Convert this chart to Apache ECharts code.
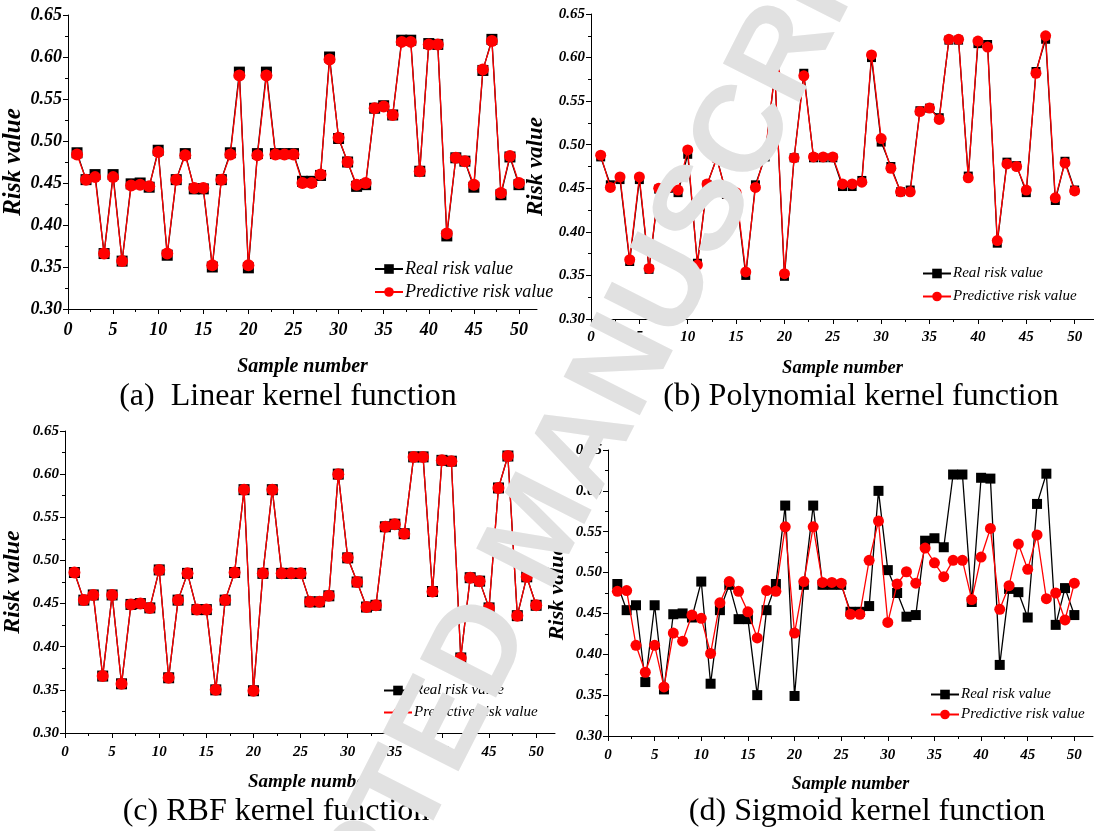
<!DOCTYPE html>
<html>
<head>
<meta charset="utf-8">
<script src="https://cdn.jsdelivr.net/npm/echarts@6/dist/echarts.min.js"></script>
<style>
html, body { margin: 0; padding: 0; background: #fff; }
#main { width: 1094px; height: 831px; }
</style>
</head>
<body>
<div id="main"></div>
<script>
// sample numbers on the x axis
var sampleNo = [1,2,3,4,5,6,7,8,9,10,11,12,13,14,15,16,17,18,19,20,
  21,22,23,24,25,26,27,28,29,30,31,32,33,34,35,36,37,38,39,40,
  41,42,43,44,45,46,47,48,49,50];

var realRisk = [0.486,0.454,0.460,0.366,0.460,0.357,0.449,0.450,0.445,0.489,
  0.364,0.454,0.485,0.443,0.443,0.350,0.454,0.486,0.582,0.349,
  0.485,0.582,0.485,0.485,0.485,0.452,0.452,0.459,0.600,0.503,
  0.475,0.446,0.448,0.539,0.542,0.531,0.620,0.620,0.464,0.616,
  0.615,0.387,0.480,0.476,0.445,0.584,0.621,0.436,0.481,0.448];

var predLinear = [0.484,0.454,0.457,0.366,0.457,0.357,0.447,0.448,0.446,0.487,
  0.366,0.454,0.483,0.444,0.444,0.352,0.454,0.484,0.578,0.352,
  0.483,0.578,0.484,0.484,0.484,0.450,0.450,0.460,0.597,0.504,
  0.475,0.448,0.450,0.539,0.541,0.531,0.618,0.618,0.464,0.615,
  0.615,0.390,0.480,0.476,0.448,0.585,0.619,0.438,0.482,0.450];

var predPoly = [0.488,0.451,0.463,0.368,0.463,0.358,0.450,0.451,0.448,0.494,
  0.362,0.455,0.484,0.444,0.445,0.354,0.451,0.489,0.582,0.352,
  0.485,0.579,0.486,0.486,0.486,0.455,0.455,0.457,0.603,0.507,
  0.473,0.446,0.446,0.538,0.542,0.529,0.621,0.621,0.462,0.619,
  0.612,0.390,0.478,0.475,0.448,0.582,0.625,0.439,0.479,0.447];

var predRbf = [0.486,0.454,0.460,0.366,0.460,0.357,0.449,0.450,0.445,0.489,
  0.364,0.454,0.485,0.443,0.443,0.350,0.454,0.486,0.582,0.349,
  0.485,0.582,0.485,0.485,0.485,0.452,0.452,0.459,0.600,0.503,
  0.475,0.446,0.448,0.539,0.542,0.531,0.620,0.620,0.464,0.616,
  0.615,0.387,0.480,0.476,0.445,0.584,0.621,0.436,0.481,0.448];

var predSigmoid = [0.477,0.478,0.411,0.378,0.411,0.360,0.426,0.416,0.448,0.444,
  0.401,0.463,0.489,0.477,0.452,0.420,0.478,0.477,0.556,0.426,
  0.489,0.556,0.488,0.488,0.487,0.449,0.449,0.515,0.563,0.439,
  0.486,0.501,0.487,0.530,0.512,0.495,0.515,0.515,0.467,0.519,
  0.554,0.455,0.484,0.535,0.504,0.546,0.468,0.475,0.442,0.487];

var xTicks = [0, 5, 10, 15, 20, 25, 30, 35, 40, 45, 50];
var yTicks = [0.30, 0.35, 0.40, 0.45, 0.50, 0.55, 0.60, 0.65];

var captions = ['(a)  Linear kernel function', '(b) Polynomial kernel function',
  '(c) RBF kernel function', '(d) Sigmoid kernel function'];

var serif = 'Liberation Serif, Times New Roman, serif';

// layout of the four panels
var panels = [
  { pred: predLinear, grid: { left: 65, top: 15, width: 472, height: 294 },
    tick: 18, name: 20, yName: 25, xGap: 48, yGap: 42, labMargin: 12,
    legend: { left: 369, top: 255, gap: 5, font: 18 }, sq: 11, dot: 12,
    cap: { x: 288, y: 397 } },
  { pred: predPoly, grid: { left: 591, top: 14, width: 504, height: 305 },
    tick: 15, name: 18.5, yName: 23, xGap: 40, yGap: 43, labMargin: 11,
    legend: { left: 917, top: 261, gap: 8, font: 15 }, sq: 9, dot: 11,
    cap: { x: 861, y: 397 } },
  { pred: predRbf, grid: { left: 56, top: 431, width: 499, height: 302 },
    tick: 15, name: 19, yName: 24, xGap: 40, yGap: 40, labMargin: 12,
    legend: { left: 378, top: 678, gap: 7, font: 15 }, sq: 11, dot: 12,
    cap: { x: 276, y: 812 } },
  { pred: predSigmoid, grid: { left: 608, top: 450, width: 485, height: 286 },
    tick: 15, name: 18, yName: 22, xGap: 39, yGap: 40, labMargin: 12,
    legend: { left: 925, top: 682, gap: 5, font: 15 }, sq: 10, dot: 11,
    cap: { x: 867, y: 812 } }
];

function pairs(vals) {
  return sampleNo.map(function (n, i) { return [n, vals[i]]; });
}

var grids = [], xAxes = [], yAxes = [], series = [], legends = [], graphics = [];

panels.forEach(function (p, i) {
  grids.push(p.grid);
  xAxes.push({
    type: 'value', gridIndex: i, min: 0, max: 52, interval: 5,
    name: 'Sample number', nameLocation: 'middle', nameGap: p.xGap,
    nameTextStyle: { fontFamily: serif, fontStyle: 'italic', fontWeight: 'bold', fontSize: p.name, color: '#000' },
    axisLine: { lineStyle: { color: '#000', width: 1 } },
    axisTick: { show: true, length: 5, customValues: xTicks, lineStyle: { color: '#000' } },
    minorTick: { show: true, splitNumber: 2, length: 3, lineStyle: { color: '#000' } },
    axisLabel: { customValues: xTicks, margin: p.labMargin, fontFamily: serif, fontStyle: 'italic', fontWeight: 'bold', fontSize: p.tick, color: '#000' },
    splitLine: { show: false }
  });
  yAxes.push({
    type: 'value', gridIndex: i, min: 0.3, max: 0.65, interval: 0.05,
    name: 'Risk value', nameLocation: 'middle', nameGap: p.yGap, nameRotate: 90,
    nameTextStyle: { fontFamily: serif, fontStyle: 'italic', fontWeight: 'bold', fontSize: p.yName, color: '#000' },
    axisLine: { show: true, lineStyle: { color: '#000', width: 1 } },
    axisTick: { show: true, length: 5, lineStyle: { color: '#000' } },
    minorTick: { show: true, splitNumber: 2, length: 3, lineStyle: { color: '#000' } },
    axisLabel: { margin: 6, fontFamily: serif, fontStyle: 'italic', fontWeight: 'bold', fontSize: p.tick, color: '#000',
      formatter: function (v) { return v.toFixed(2); } },
    splitLine: { show: false }
  });
  series.push({
    name: 'Real risk value', type: 'line', xAxisIndex: i, yAxisIndex: i,
    data: pairs(realRisk), symbol: 'rect', symbolSize: p.sq, showAllSymbol: true,
    lineStyle: { color: '#000', width: 1.3 }, itemStyle: { color: '#000' },
    animation: false, z: 2
  });
  series.push({
    name: 'Predictive risk value', type: 'line', xAxisIndex: i, yAxisIndex: i,
    data: pairs(p.pred), symbol: 'circle', symbolSize: p.dot, showAllSymbol: true,
    lineStyle: { color: '#ff0000', width: 1.3 }, itemStyle: { color: '#ff0000' },
    animation: false, z: 3
  });
  legends.push({
    orient: 'vertical', left: p.legend.left, top: p.legend.top,
    itemWidth: 28, itemHeight: 12, itemGap: p.legend.gap,
    selectedMode: false,
    data: ['Real risk value', 'Predictive risk value'],
    textStyle: { fontFamily: serif, fontStyle: 'italic', fontSize: p.legend.font, color: '#000', padding: [0, 0, 0, -3] }
  });
  graphics.push({
    type: 'text', x: p.cap.x, y: p.cap.y, z: 50,
    style: { text: captions[i], fill: '#000', font: '32px ' + serif, textAlign: 'center', textVerticalAlign: 'middle' }
  });
});

// grey "accepted manuscript" stamp across the page
graphics.push({
  type: 'text', x: 543, y: 530, rotation: 1.10, z: 100,
  style: { text: 'ACCEPTED MANUSCRIPT', fill: '#e1e1e1', font: 'bold 124px Liberation Sans, Arial, sans-serif',
    textAlign: 'center', textVerticalAlign: 'middle' }
});

var chart = echarts.init(document.getElementById('main'));
chart.setOption({
  backgroundColor: '#fff',
  animation: false,
  grid: grids,
  xAxis: xAxes,
  yAxis: yAxes,
  legend: legends,
  series: series,
  graphic: { elements: graphics }
});
window.addEventListener('resize', function () { chart.resize(); });
</script>
</body>
</html>
